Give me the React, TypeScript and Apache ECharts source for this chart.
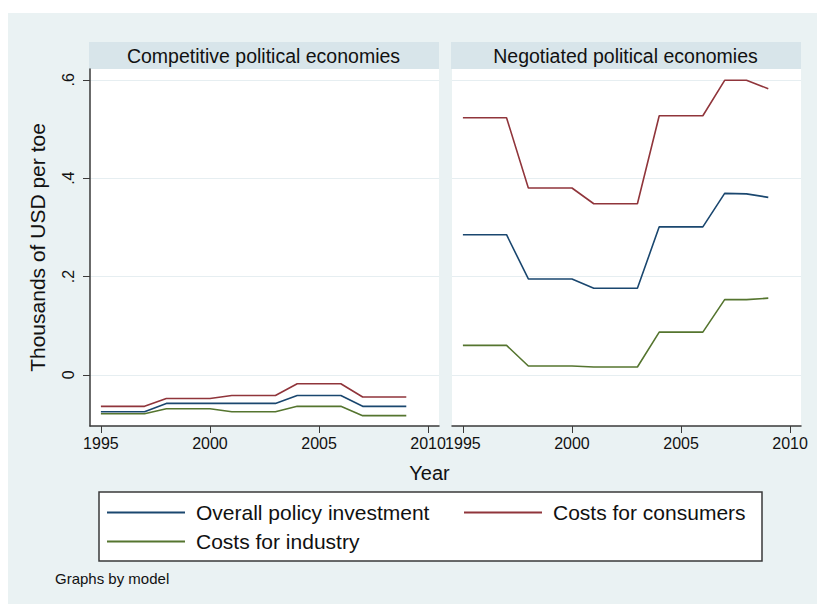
import React, { useEffect, useRef } from 'react';
import * as echarts from 'echarts';

const years = [1995, 1996, 1997, 1998, 1999, 2000, 2001, 2002, 2003, 2004, 2005, 2006, 2007, 2008, 2009];
const panelTitles = ['Competitive political economies', 'Negotiated political economies'];
const seriesNames = ['Overall policy investment', 'Costs for consumers', 'Costs for industry'];
const seriesColors = ['#1a476f', '#90353b', '#55752f'];

const compOverall = [-0.075, -0.075, -0.075, -0.058, -0.058, -0.058, -0.058, -0.058, -0.058, -0.042, -0.042, -0.042, -0.064, -0.064, -0.064];
const compConsumers = [-0.064, -0.064, -0.064, -0.048, -0.048, -0.048, -0.042, -0.042, -0.042, -0.018, -0.018, -0.018, -0.045, -0.045, -0.045];
const compIndustry = [-0.079, -0.079, -0.079, -0.069, -0.069, -0.069, -0.075, -0.075, -0.075, -0.064, -0.064, -0.064, -0.083, -0.083, -0.083];

const negOverall = [0.285, 0.285, 0.285, 0.195, 0.195, 0.195, 0.176, 0.176, 0.176, 0.301, 0.301, 0.301, 0.369, 0.368, 0.361];
const negConsumers = [0.523, 0.523, 0.523, 0.38, 0.38, 0.38, 0.348, 0.348, 0.348, 0.527, 0.527, 0.527, 0.599, 0.599, 0.582];
const negIndustry = [0.06, 0.06, 0.06, 0.018, 0.018, 0.018, 0.016, 0.016, 0.016, 0.087, 0.087, 0.087, 0.153, 0.153, 0.156];

const xTicks = [1995, 2000, 2005, 2010];
const yTicks = [0, 0.2, 0.4, 0.6];

const panelData = [
  [compOverall, compConsumers, compIndustry],
  [negOverall, negConsumers, negIndustry],
];

const FONT = "'Liberation Sans', Arial, sans-serif";
const AXIS_COLOR = '#3a3a3a';

export default function App() {
  const ref = useRef<HTMLDivElement>(null);

  useEffect(() => {
    if (!ref.current) return;
    const chart = echarts.init(ref.current, null, { renderer: 'svg' });

    const gridLefts = [90, 452];
    const gridW = 349;
    const gridTop = 69;
    const gridH = 357;

    const grids = gridLefts.map((l) => ({
      left: l,
      top: gridTop,
      width: gridW,
      height: gridH,
      show: true,
      backgroundColor: '#ffffff',
      borderWidth: 0,
      containLabel: false,
    }));

    const xAxes = gridLefts.map((_, i) => ({
      type: 'value',
      gridIndex: i,
      min: 1994.5,
      max: 2010.5,
      axisLine: { show: true, onZero: false, lineStyle: { color: AXIS_COLOR, width: 1.5 } },
      axisTick: { show: true, length: 7, customValues: xTicks, lineStyle: { color: AXIS_COLOR, width: 1 } },
      axisLabel: {
        show: true,
        customValues: xTicks,
        margin: 9,
        fontSize: 16,
        color: '#111',
        fontFamily: FONT,
        formatter: (v: number) => String(v),
      },
      splitLine: { show: false },
    }));

    const yAxes = gridLefts.map((_, i) => ({
      type: 'value',
      gridIndex: i,
      min: -0.104,
      max: 0.622,
      name: i === 0 ? 'Thousands of USD per toe' : '',
      nameLocation: 'middle',
      nameGap: 42,
      nameTextStyle: { fontSize: 21, color: '#111', fontFamily: FONT },
      axisLine: { show: i === 0, lineStyle: { color: AXIS_COLOR, width: 1.5 } },
      axisTick: { show: i === 0, length: 7, customValues: yTicks, lineStyle: { color: AXIS_COLOR, width: 1 } },
      axisLabel: {
        show: i === 0,
        customValues: yTicks,
        rotate: 90,
        margin: 14,
        fontSize: 16,
        color: '#111',
        fontFamily: FONT,
        formatter: (v: number) => (Math.abs(v) < 1e-9 ? '0' : String(Math.round(v * 10) / 10).replace(/^0/, '')),
      },
      splitLine: { show: true, lineStyle: { color: '#e6eef1', width: 1 } },
    }));

    const series: any[] = [];
    panelData.forEach((arrs, i) => {
      arrs.forEach((arr, j) => {
        series.push({
          type: 'line',
          name: seriesNames[j],
          xAxisIndex: i,
          yAxisIndex: i,
          data: years.map((y, k) => [y, arr[k]]),
          symbol: 'none',
          color: seriesColors[j],
          lineStyle: { color: seriesColors[j], width: 1.6 },
          z: 3,
        });
      });
    });

    const legendPos = [
      { left: 107, top: 502 },
      { left: 464, top: 502 },
      { left: 107, top: 531 },
    ];
    const legends = seriesNames.map((n, j) => ({
      data: [{ name: n, icon: 'rect' }],
      left: legendPos[j].left,
      top: legendPos[j].top,
      padding: 0,
      itemWidth: 78,
      itemHeight: 2,
      selectedMode: false,
      textStyle: { fontSize: 21, color: '#111', fontFamily: FONT, padding: [0, 0, 0, 6] },
    }));

    const graphics: any[] = [
      { type: 'rect', shape: { x: 8, y: 13, width: 809, height: 591 }, style: { fill: '#eaf2f3' }, z: -100, silent: true },
      { type: 'rect', shape: { x: 99, y: 492, width: 663, height: 69 }, style: { fill: '#ffffff', stroke: '#3a3a3a', lineWidth: 1.5 }, z: -50, silent: true },
    ];
    gridLefts.forEach((l, i) => {
      graphics.push({
        type: 'rect',
        shape: { x: l - 1, y: 42, width: gridW + 1, height: 27 },
        style: { fill: '#d8e5ea' },
        z: -40,
        silent: true,
      });
      graphics.push({
        type: 'text',
        x: l + gridW / 2 - 1,
        y: 55.5,
        style: {
          text: panelTitles[i],
          fontSize: 19.5,
          fontFamily: FONT,
          fill: '#111',
          textAlign: 'center',
          textVerticalAlign: 'middle',
        },
        z: 10,
        silent: true,
      });
    });
    graphics.push({
      type: 'text',
      x: 429.5,
      y: 473,
      style: { text: 'Year', fontSize: 20, fontFamily: FONT, fill: '#111', textAlign: 'center', textVerticalAlign: 'middle' },
      z: 10,
      silent: true,
    });
    graphics.push({
      type: 'text',
      x: 55,
      y: 578,
      style: { text: 'Graphs by model', fontSize: 15, fontFamily: FONT, fill: '#111', textAlign: 'left', textVerticalAlign: 'middle' },
      z: 10,
      silent: true,
    });

    chart.setOption({
      animation: false,
      backgroundColor: '#ffffff',
      grid: grids,
      xAxis: xAxes,
      yAxis: yAxes,
      legend: legends,
      series,
      graphic: { elements: graphics },
    } as any);

    return () => {
      chart.dispose();
    };
  }, []);

  return (
    <div
      ref={ref}
      style={{ position: 'absolute', left: 0, top: 0, width: 817, height: 604 }}
    />
  );
}
